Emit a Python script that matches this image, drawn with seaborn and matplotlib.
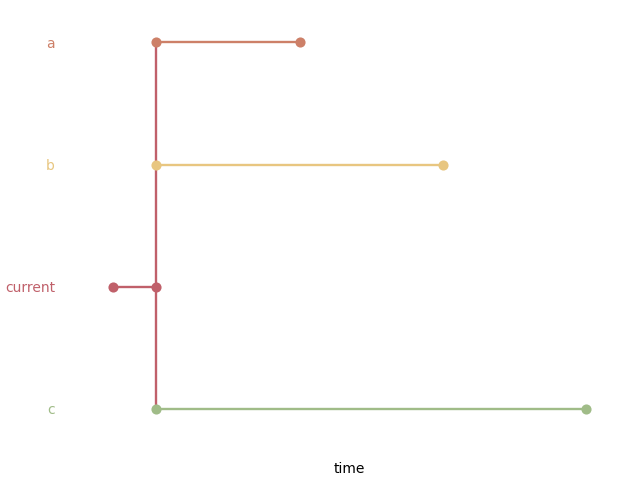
import matplotlib
matplotlib.use('agg')
from matplotlib import pyplot as plt
import pandas as pd
import seaborn as sns

# branches, top to bottom
branches = ['a', 'b', 'current', 'c']
starts = [0, 0, -3, 0]
ends = [10, 20, 0, 30]
colours = ['#cd8068', '#e8c680', '#c0606a', '#a0bc88']
forkBranch = 'current'
forkTime = 0

sns.set_style('white')

rows = []
for i, name in enumerate(branches):
	rows += [[name, i, starts[i]], [name, i, ends[i]]]
df = pd.DataFrame(data=rows, columns=['branch', 'pos', 'time'])

pal = dict(zip(branches, colours))

fig = plt.figure(figsize=(6.4, 4.8), dpi=100)
ax = fig.add_axes([0.14, 0.11, 0.813, 0.84])

# trunk line from the fork point down through all branches
forkIdx = branches.index(forkBranch)
trunk = pd.DataFrame({'time': [forkTime, forkTime], 'pos': [0, len(branches) - 1]})
sns.lineplot(data=trunk, x='time', y='pos', color=colours[forkIdx], linewidth=1.7,
			 sort=False, estimator=None, ax=ax, zorder=1)

for name in branches:
	sub = df[df['branch'] == name]
	sns.lineplot(data=sub, x='time', y='pos', color=pal[name], linewidth=1.7,
				 marker='o', markersize=7.3, markeredgewidth=0,
				 sort=False, estimator=None, ax=ax, zorder=2)

ax.set_yticks(range(len(branches)))
ax.set_yticklabels(branches)
for lbl, col in zip(ax.get_yticklabels(), colours):
	lbl.set_color(col)
ax.invert_yaxis()
ax.set_xticks([])
ax.tick_params(axis='y', length=0, pad=25, labelsize=10)
ax.set_ylabel('')
ax.set_xlabel('time', fontsize=10, color='black', labelpad=25)
sns.despine(left=True, bottom=True)

plt.savefig('out.png', dpi=100)
plt.close()
